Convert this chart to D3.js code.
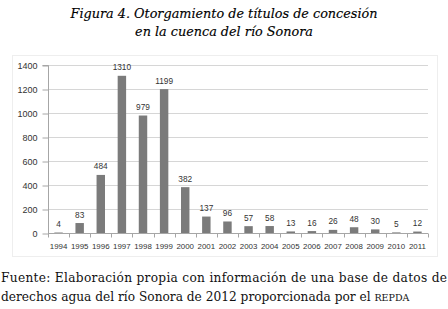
<!DOCTYPE html>
<html><head><meta charset="utf-8">
<script src="https://cdn.jsdelivr.net/npm/d3@7"></script>
<style>body{margin:0;background:#fff}svg{display:block}</style>
</head><body>
<script>
const years = ["1994","1995","1996","1997","1998","1999","2000","2001","2002","2003","2004","2005","2006","2007","2008","2009","2010","2011"];
const values = [4,83,484,1310,979,1199,382,137,96,57,58,13,16,26,48,30,5,12];
const yTicks = [0,200,400,600,800,1000,1200,1400];
const titleLines = ["Figura 4. Otorgamiento de títulos de concesión","en la cuenca del río Sonora"];

const W=448,H=309;
const svg=d3.select("body").append("svg").attr("width",W).attr("height",H);
const x=d3.scaleBand().domain(years).range([48,428]).paddingInner(0.6).paddingOuter(0.3);
const y=d3.scaleLinear().domain([0,1400]).range([233,65]);

// faint frame
svg.append("rect").attr("x",12.5).attr("y",55.5).attr("width",425).attr("height",201).attr("fill","none").attr("stroke","#eeeeee");

// title
svg.append("g").selectAll("text").data(titleLines).join("text")
 .attr("x",224).attr("y",(d,i)=>17.5+i*18.5).attr("text-anchor","middle")
 .attr("font-family","DejaVu Serif").attr("font-style","italic").attr("font-size",12.8).attr("fill","#000")
 .attr("stroke","#000").attr("stroke-width",0.15)
 .text(d=>d);

// gridlines
svg.append("g").selectAll("line").data(yTicks.slice(1)).join("line")
 .attr("x1",48).attr("x2",428).attr("y1",d=>Math.round(y(d))+0.5).attr("y2",d=>Math.round(y(d))+0.5)
 .attr("stroke","#d6d6d6");

// y axis
const ya=svg.append("g").attr("transform","translate(48.5,0.5)").call(d3.axisLeft(y).tickValues(yTicks).tickSize(6).tickPadding(5).tickFormat(d3.format("d")));
ya.select(".domain").attr("stroke","#a6a6a6").attr("d","M-6,"+Math.round(y(1400))+"H0V"+Math.round(y(0)));
ya.selectAll(".tick line").attr("stroke","#a6a6a6");
ya.selectAll("text").attr("font-family","Liberation Sans").attr("font-size",9).attr("fill","#333");

// bars
svg.append("g").selectAll("rect").data(values).join("rect")
 .attr("x",(d,i)=>x(years[i])).attr("width",x.bandwidth())
 .attr("y",d=>y(d)).attr("height",d=>233-y(d)).attr("fill","#7b7b7b");

// value labels
svg.append("g").selectAll("text").data(values).join("text")
 .attr("x",(d,i)=>x(years[i])+x.bandwidth()/2).attr("y",d=>y(d)-5.5)
 .attr("text-anchor","middle").attr("font-family","Liberation Sans").attr("font-size",8.3).attr("fill","#333")
 .text(d=>d);

// x axis
const xa=svg.append("g").attr("transform","translate(0,233.5)");
xa.append("line").attr("x1",48).attr("x2",428).attr("stroke","#a6a6a6");
xa.selectAll("line.t").data(d3.range(years.length+1)).join("line").attr("class","t")
 .attr("x1",i=>Math.round(48+i*x.step())+0.5).attr("x2",i=>Math.round(48+i*x.step())+0.5)
 .attr("y1",0).attr("y2",4).attr("stroke","#a6a6a6");
xa.selectAll("text").data(years).join("text")
 .attr("x",d=>x(d)+x.bandwidth()/2).attr("y",15.5).attr("text-anchor","middle")
 .attr("font-family","Liberation Sans").attr("font-size",7.9).attr("fill","#333").text(d=>d);

// footer
const f=svg.append("g").attr("font-family","DejaVu Serif").attr("font-size",12.2).attr("fill","#111");
f.append("text").attr("x",1).attr("y",282).attr("textLength",446).attr("lengthAdjust","spacing")
 .text("Fuente: Elaboración propia con información de una base de datos de");
const t2=f.append("text").attr("x",1).attr("y",301);
t2.append("tspan").text("derechos agua del río Sonora de 2012 proporcionada por el ");
t2.append("tspan").attr("font-size",9.5).text("REPDA");
</script>
</body></html>
